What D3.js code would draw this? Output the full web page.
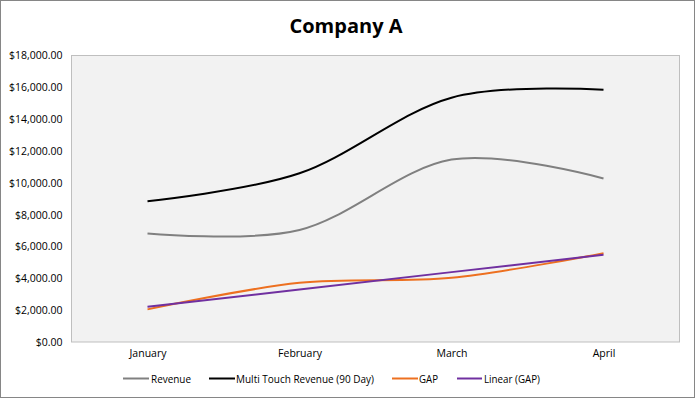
<!DOCTYPE html>
<html><head><meta charset="utf-8">
<script src="https://cdn.jsdelivr.net/npm/d3@7"></script>
<style>
html,body{margin:0;padding:0;background:#fff;}
svg{display:block;}
text{font-family:"Open Sans","Noto Sans",sans-serif;}
</style></head>
<body>
<script>
const categories = ["January","February","March","April"];
const revenue = [6820, 7040, 11460, 10270];
const multiTouch = [8850, 10600, 15350, 15850];
const gap = [2050, 3720, 4035, 5580];
const linearGap = [2210, 3300, 4390, 5480];
const yTicks = [0,2000,4000,6000,8000,10000,12000,14000,16000,18000];
const seriesNames = ["Revenue","Multi Touch Revenue (90 Day)","GAP","Linear (GAP)"];

const W=695,H=398;
const svg=d3.select("body").append("svg").attr("width",W).attr("height",H);
svg.append("rect").attr("x",0.5).attr("y",0.5).attr("width",W-1).attr("height",H-1)
  .attr("fill","#fff").attr("stroke","#868686");

const pl=71.5, pr=679.5, pt=55.5, pb=342;
svg.append("rect").attr("x",pl).attr("y",pt).attr("width",pr-pl).attr("height",pb-pt)
  .attr("fill","#f2f2f2").attr("stroke","#bfbfbf");

svg.append("text").attr("x",346).attr("y",33).attr("text-anchor","middle")
  .attr("font-size",20).attr("font-weight","bold").attr("fill","#000").text("Company A");

const x=d3.scalePoint().domain(categories).range([pl,pr]).padding(0.5);
const y=d3.scaleLinear().domain([0,18000]).range([pb,pt]);

const fmt=d3.format("$,.2f");
const yAxis=svg.append("g").attr("transform",`translate(${pl},0)`)
  .call(d3.axisLeft(y).tickValues(yTicks).tickFormat(fmt).tickSize(0).tickPadding(9));
yAxis.select(".domain").remove();
yAxis.selectAll("text").attr("font-size",10.5).attr("fill","#000")
  .style("font-family","'Open Sans','Noto Sans',sans-serif");

const xAxis=svg.append("g").attr("transform",`translate(0,${pb})`)
  .call(d3.axisBottom(x).tickSize(0).tickPadding(8));
xAxis.select(".domain").remove();
xAxis.selectAll("text").attr("font-size",10.5).attr("fill","#000")
  .style("font-family","'Open Sans','Noto Sans',sans-serif");

const colors=["#808080","#000000","#ed7020","#7030a0"];
const data=[revenue,multiTouch,gap,linearGap];
const curves=[d3.curveCatmullRom.alpha(0),d3.curveCatmullRom.alpha(0),d3.curveCatmullRom.alpha(0),d3.curveLinear];
data.forEach((s,i)=>{
  const line=d3.line().x((d,j)=>x(categories[j])).y(d=>y(d)).curve(curves[i]);
  svg.append("path").datum(s).attr("d",line).attr("fill","none")
    .attr("stroke",colors[i]).attr("stroke-width",2).attr("stroke-linecap","butt");
});

const legendPos=[{x0:123,x1:149,tx:151,w:40},{x0:209,x1:235,tx:236,w:138},{x0:392,x1:418,tx:419,w:19},{x0:457,x1:482,tx:484,w:56}];
const lg=svg.append("g");
seriesNames.forEach((n,i)=>{
  const p=legendPos[i];
  lg.append("line").attr("x1",p.x0).attr("x2",p.x1).attr("y1",378.5).attr("y2",378.5)
    .attr("stroke",colors[i]).attr("stroke-width",2);
  lg.append("text").attr("x",p.tx).attr("y",382.5).attr("font-size",10.5).attr("fill","#000")
    .attr("textLength",p.w).attr("lengthAdjust","spacingAndGlyphs").text(n);
});
</script>
</body></html>
